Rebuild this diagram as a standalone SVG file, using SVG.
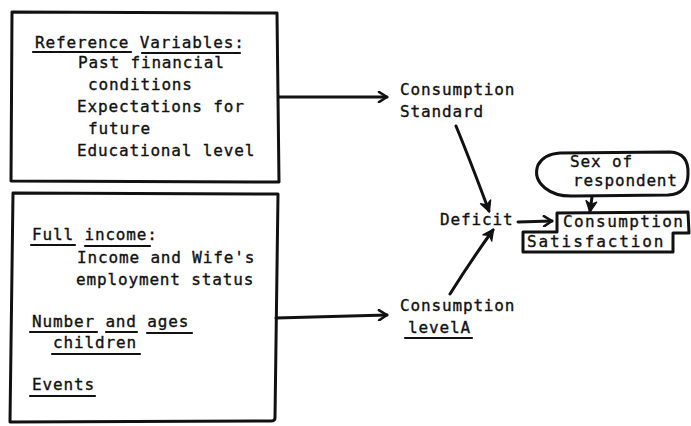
<svg xmlns="http://www.w3.org/2000/svg" width="691" height="426" viewBox="0 0 691 426">
<defs>
<style>
.t{font-family:"DejaVu Sans Mono","Liberation Mono",monospace;font-size:16px;letter-spacing:0.85px;fill:#111;stroke:#111;stroke-width:0.35px}
.box{fill:none;stroke:#111;stroke-width:3;stroke-linejoin:round;stroke-linecap:round}
.ln{fill:none;stroke:#111;stroke-width:3;stroke-linecap:round;stroke-linejoin:round}
.ul{stroke:#111;stroke-width:2.2;stroke-linecap:round}
</style>
<marker id="ah" viewBox="0 0 12 12" refX="10" refY="6" markerWidth="12" markerHeight="12" markerUnits="userSpaceOnUse" orient="auto">
<path d="M2,1 L10,6 L2,11" fill="none" stroke="#111" stroke-width="2.6" stroke-linecap="round" stroke-linejoin="round"/>
</marker>
<marker id="ahf" viewBox="0 0 12 12" refX="10" refY="6" markerWidth="13" markerHeight="13" markerUnits="userSpaceOnUse" orient="auto">
<path d="M1,1 L11,6 L1,11 L4,6 Z" fill="#111" stroke="#111" stroke-width="1.2" stroke-linejoin="round"/>
</marker>
</defs>
<rect width="691" height="426" fill="#fff"/>

<g id="reference-variables">
<path class="box" d="M12,12 L277,13 L279,182 L11,181 Z"/>
<text class="t" x="35" y="48">Reference Variables:</text>
<line class="ul" x1="33" y1="52" x2="131" y2="52"/>
<line class="ul" x1="142" y1="53" x2="240" y2="53"/>
<text class="t" x="78" y="68">Past financial</text>
<text class="t" x="88" y="90">conditions</text>
<text class="t" x="77" y="112">Expectations for</text>
<text class="t" x="88" y="134">future</text>
<text class="t" x="77" y="156">Educational level</text>
</g>

<g id="full-income">
<path class="box" d="M13,193 L278,194 L275,418 Q275,421 271,421 L10,422 Z"/>
<text class="t" x="32" y="240">Full income:</text>
<line class="ul" x1="31" y1="245" x2="75" y2="245"/>
<line class="ul" x1="85" y1="246" x2="150" y2="246"/>
<text class="t" x="77" y="263">Income and Wife's</text>
<text class="t" x="76" y="285">employment status</text>
<text class="t" x="32" y="327">Number and ages</text>
<line class="ul" x1="30" y1="332" x2="97" y2="332"/>
<line class="ul" x1="106" y1="332" x2="137" y2="332"/>
<line class="ul" x1="147" y1="333" x2="192" y2="333"/>
<text class="t" x="53" y="348">children</text>
<line class="ul" x1="52" y1="354" x2="140" y2="354"/>
<text class="t" x="32" y="390">Events</text>
<line class="ul" x1="30" y1="396" x2="95" y2="396"/>
</g>

<g id="consumption-standard">
<text class="t" x="400" y="95">Consumption</text>
<text class="t" x="400" y="117">Standard</text>
</g>

<g id="consumption-level">
<text class="t" x="400" y="311">Consumption</text>
<text class="t" x="408" y="333">levelA</text>
<line class="ul" x1="405" y1="338" x2="472" y2="338"/>
</g>

<g id="deficit">
<text class="t" x="440" y="225">Deficit</text>
</g>

<g id="sex-of-respondent">
<path class="box" d="M560,153 L670,152 Q689,153 688,174 Q688,194 668,195 L575,196 Q556,197 545,188 Q533,178 538,165 Q544,154 560,153 Z"/>
<text class="t" x="570" y="167">Sex of</text>
<text class="t" x="573" y="186">respondent</text>
</g>

<g id="consumption-satisfaction">
<path class="box" d="M557,213 L688,212 L689,233 L673,233 L673,252 L523,252 L523,232 L557,232 Z"/>
<text class="t" x="563" y="227" style="letter-spacing:1.4px">Consumption</text>
<text class="t" x="527" y="247" style="letter-spacing:1.9px">Satisfaction</text>
</g>

<g id="connectors">
<path class="ln" d="M279,97 L387,97" marker-end="url(#ah)"/>
<path class="ln" d="M276,318 L387,315" marker-end="url(#ah)"/>
<path class="ln" d="M456,126 Q470,160 489,211" marker-end="url(#ahf)"/>
<path class="ln" d="M450,294 Q470,262 493,230" marker-end="url(#ahf)"/>
<path class="ln" d="M518,222 L552,221" marker-end="url(#ah)"/>
<path class="ln" d="M592,197 L590,211" marker-end="url(#ahf)"/>
</g>
</svg>
